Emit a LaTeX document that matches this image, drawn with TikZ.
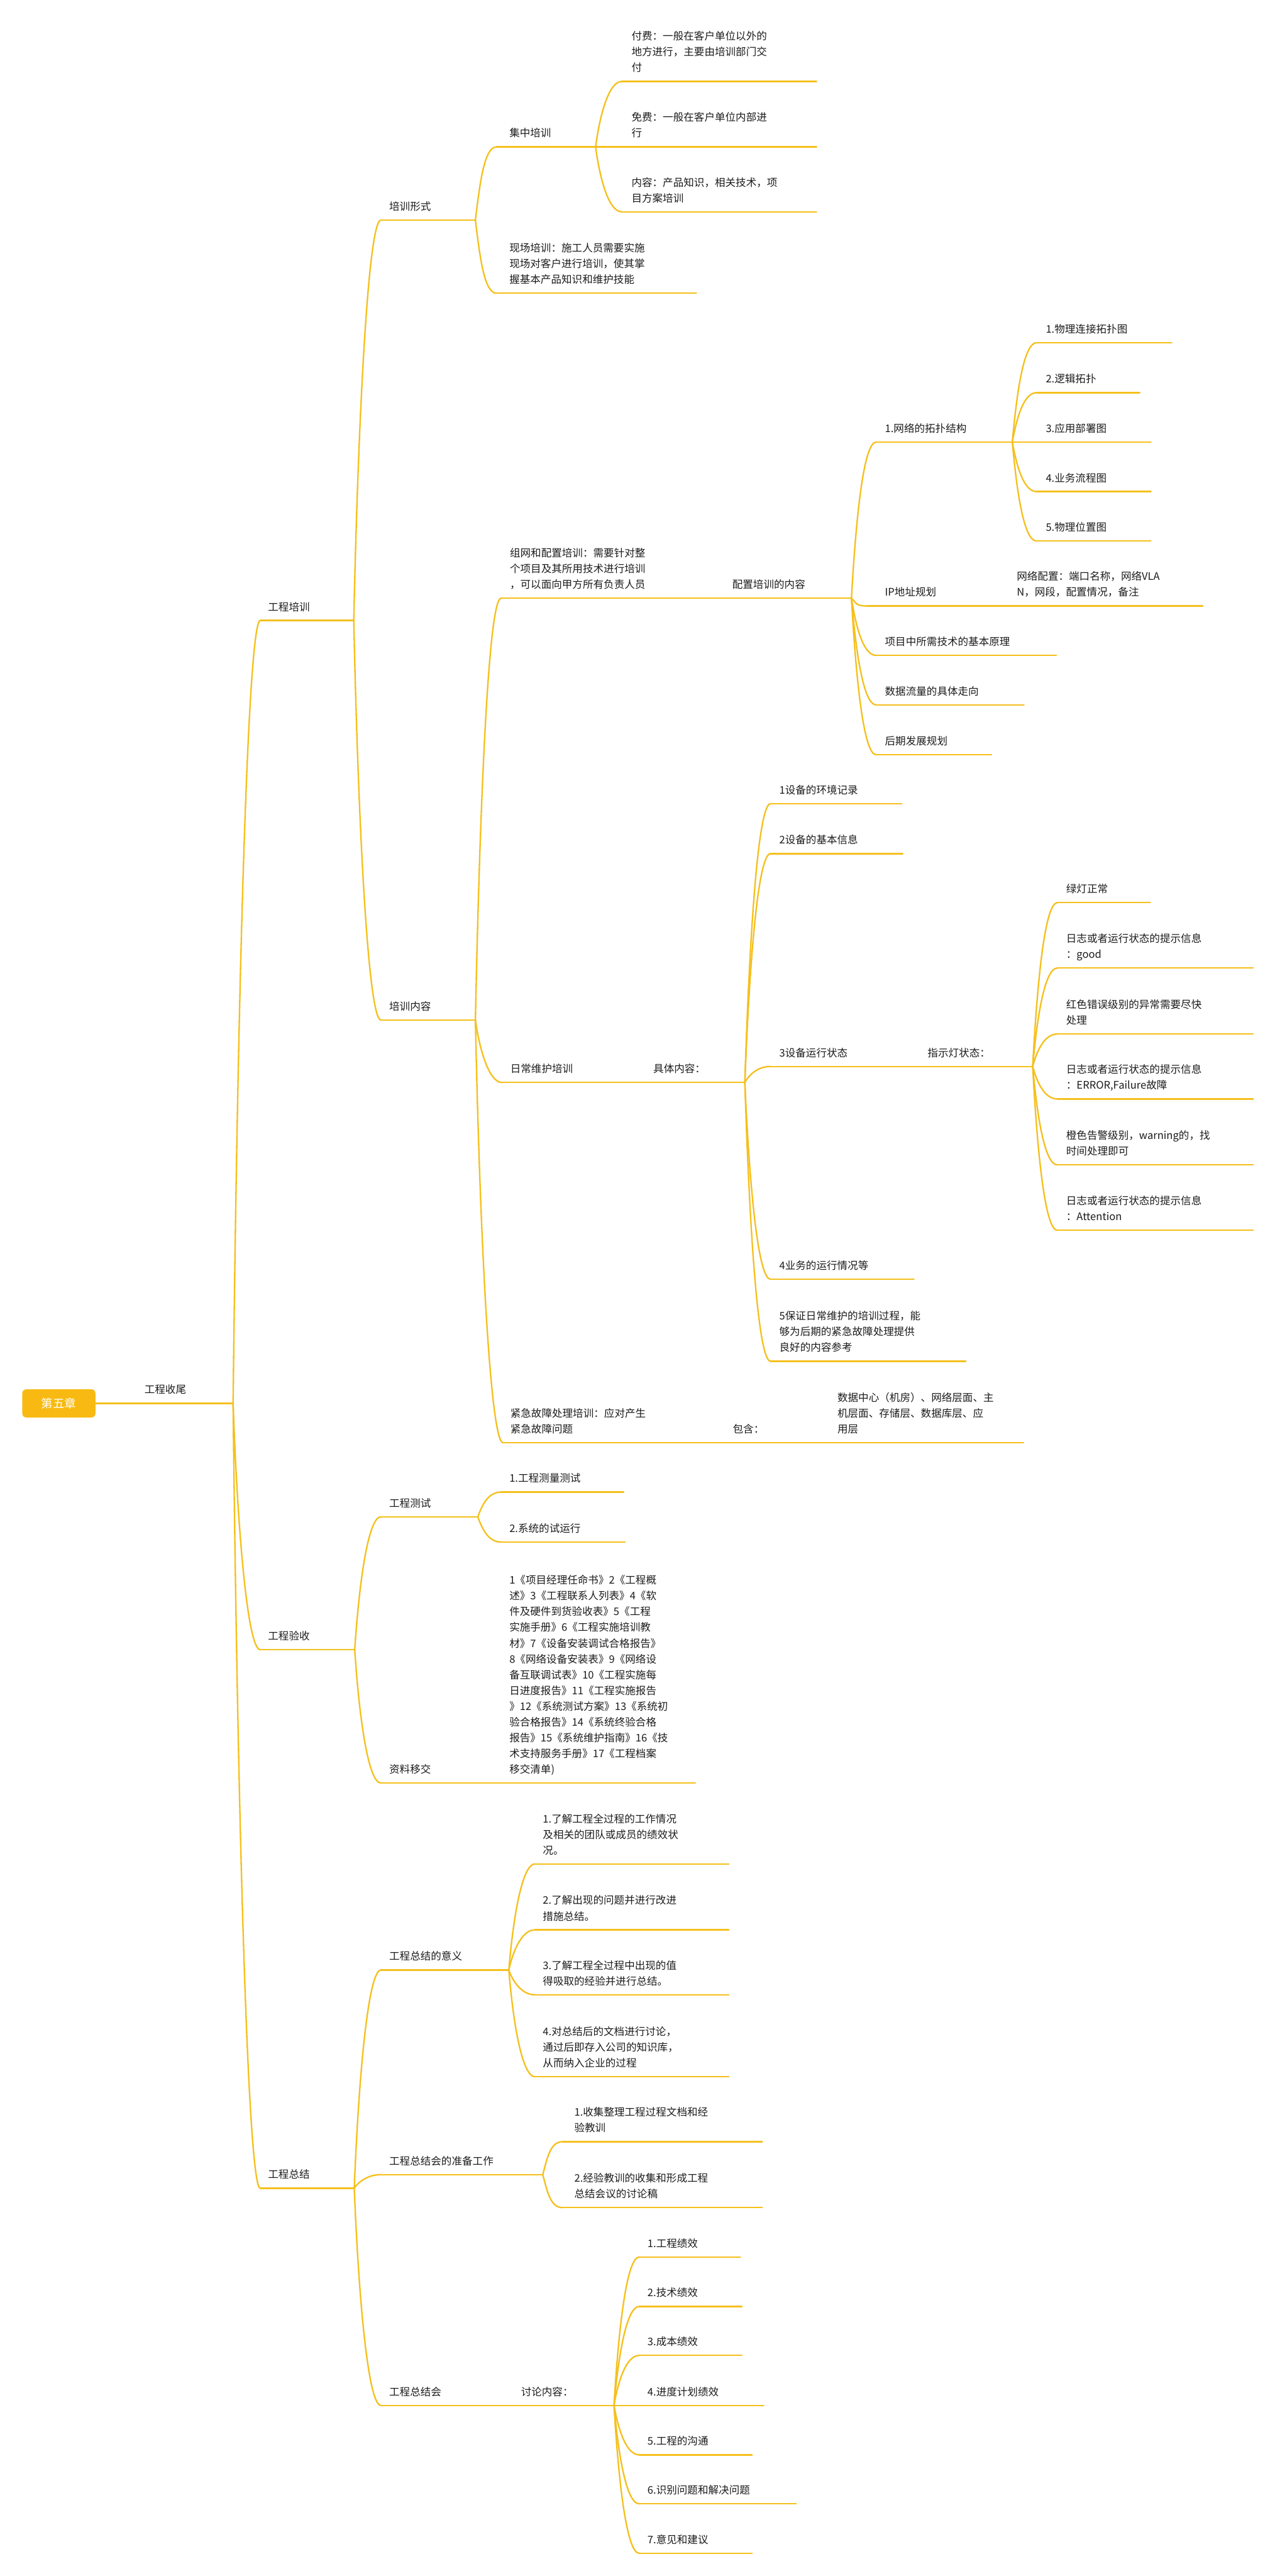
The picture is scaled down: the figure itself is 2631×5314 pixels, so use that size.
\documentclass[tikz,border=0pt]{standalone}
\usepackage{fontspec}
\setmainfont{Noto Sans CJK SC}
\definecolor{lncol}{RGB}{245,192,28}
\definecolor{txtcol}{RGB}{28,28,28}
\definecolor{rootcol}{RGB}{248,186,18}
\tikzset{
  lnk/.style={draw=lncol,line width=3pt,line cap=round},
  txt/.style={anchor=south west,inner sep=0pt,align=left,text=txtcol,font=\fontsize{21.5pt}{32.5pt}\selectfont},
  rootbox/.style={fill=rootcol,rounded corners=8pt,minimum width=151pt,minimum height=58pt,inner sep=0pt,text=white,font=\fontsize{24pt}{28pt}\selectfont}
}
\newcommand\zdp{\rule[-6pt]{0pt}{6pt}}
\newcommand\mm[6]{%
  \coordinate (#1-s) at (#4,#3);
  \coordinate (#1-e) at (#5,#3);
  \draw[lnk] (#1-s) -- (#1-e);
  \node[txt] (#1) at (#2,#3-14) {#6\zdp};}
\newcommand\cu[3]{\draw[lnk] (#1-e) .. controls +(10,-#3) and +(-25,0) .. (#2-s);}
\newcommand\cd[3]{\draw[lnk] (#1-e) .. controls +(10,#3) and +(-25,0) .. (#2-s);}
\begin{document}
\begin{tikzpicture}[x=1pt,y=-1pt]
\fill[white] (0,0) rectangle (2631,5314);
\useasboundingbox (0,0) rectangle (2631,5314);

\node[rootbox] (root) at (121.5,2895) {第五章};
\mm{R0}{298}{2895}{197}{481}{工程收尾}

\mm{A}{553}{1280}{537}{730}{工程培训}
\mm{B}{553}{3403}{537}{732}{工程验收}
\mm{C}{553}{4514}{537}{731}{工程总结}
\cu{R0}{A}{890}
\cd{R0}{B}{280}
\cd{R0}{C}{890}

% ---------- 工程培训
\mm{A1}{803}{454}{786}{981}{培训形式}
\mm{A2}{803}{2104}{786}{981}{培训内容}
\cu{A}{A1}{450}
\cd{A}{A2}{455}

\mm{A1a}{1051}{303}{1025}{1229}{集中培训}
\mm{A1b}{1051}{605}{1025}{1437}{现场培训：施工人员需要实施\\现场对客户进行培训，使其掌\\握基本产品知识和维护技能}
\cu{A1}{A1a}{83}
\cd{A1}{A1b}{83}

\mm{A1a1}{1303}{168}{1283}{1685}{付费：一般在客户单位以外的\\地方进行，主要由培训部门交\\付}
\mm{A1a2}{1303}{303}{1229}{1685}{免费：一般在客户单位内部进\\行}
\mm{A1a3}{1303}{437}{1283}{1685}{内容：产品知识，相关技术，项\\目方案培训}
\cu{A1a}{A1a1}{74}
\cd{A1a}{A1a3}{74}

\mm{A2a}{1052}{1234}{1034}{1480}{组网和配置培训：需要针对整\\个项目及其所用技术进行培训\\，可以面向甲方所有负责人员}
\mm{A2b}{1053}{2233}{1036}{1330}{日常维护培训}
\mm{A2c}{1053}{2976}{1038}{1490}{紧急故障处理培训：应对产生\\紧急故障问题}
\cu{A2}{A2a}{480}
\cd{A2}{A2b}{70}
\cd{A2}{A2c}{480}

\mm{A2ac}{1511}{1234}{1480}{1757}{配置培训的内容}
\mm{T}{1826}{912}{1808}{2089}{1.网络的拓扑结构}
\mm{IP}{1826}{1250}{1789}{2075}{IP地址规划}
\mm{P}{1826}{1352}{1808}{2180}{项目中所需技术的基本原理}
\mm{D}{1826}{1454}{1808}{2113}{数据流量的具体走向}
\mm{H}{1826}{1557}{1808}{2046}{后期发展规划}
\cu{A2ac}{T}{177}
\cd{A2ac}{IP}{9}
\cd{A2ac}{P}{65}
\cd{A2ac}{D}{121}
\cd{A2ac}{H}{178}

\mm{T1}{2158}{707}{2139}{2418}{1.物理连接拓扑图}
\mm{T2}{2158}{810}{2139}{2352}{2.逻辑拓扑}
\mm{T3}{2158}{912}{2089}{2375}{3.应用部署图}
\mm{T4}{2158}{1014}{2139}{2375}{4.业务流程图}
\mm{T5}{2158}{1116}{2139}{2375}{5.物理位置图}
\cu{T}{T1}{113}
\cu{T}{T2}{56}
\cd{T}{T4}{56}
\cd{T}{T5}{112}

\mm{IPc}{2098}{1250}{2075}{2482}{网络配置：端口名称，网络VLA\\N，网段，配置情况，备注}

\mm{A2bc}{1348}{2233}{1330}{1537}{具体内容：}
\mm{S1}{1608}{1658}{1590}{1861}{1设备的环境记录}
\mm{S2}{1608}{1761}{1590}{1863}{2设备的基本信息}
\mm{S3}{1608}{2200}{1590}{1895}{3设备运行状态}
\mm{S4}{1608}{2639}{1590}{1886}{4业务的运行情况等}
\mm{S5}{1608}{2808}{1590}{1993}{5保证日常维护的培训过程，能\\够为后期的紧急故障处理提供\\良好的内容参考}
\cu{A2bc}{S1}{316}
\cu{A2bc}{S2}{260}
\cu{A2bc}{S3}{18}
\cd{A2bc}{S4}{223}
\cd{A2bc}{S5}{316}

\mm{S3c}{1914}{2200}{1895}{2131}{指示灯状态：}
\mm{L1}{2200}{1862}{2182}{2374}{绿灯正常}
\mm{L2}{2200}{1997}{2182}{2586}{日志或者运行状态的提示信息\\：good}
\mm{L3}{2200}{2133}{2182}{2586}{红色错误级别的异常需要尽快\\处理}
\mm{L4}{2200}{2267}{2182}{2586}{日志或者运行状态的提示信息\\：ERROR,Failure故障}
\mm{L5}{2200}{2403}{2182}{2586}{橙色告警级别，warning的，找\\时间处理即可}
\mm{L6}{2200}{2538}{2182}{2586}{日志或者运行状态的提示信息\\：Attention}
\cu{S3c}{L1}{186}
\cu{S3c}{L2}{112}
\cu{S3c}{L3}{37}
\cd{S3c}{L4}{37}
\cd{S3c}{L5}{112}
\cd{S3c}{L6}{186}

\mm{A2cc}{1512}{2976}{1490}{1705}{包含：}
\mm{A2cd}{1728}{2976}{1705}{2112}{数据中心（机房）、网络层面、主\\机层面、存储层、数据库层、应\\用层}

% ---------- 工程验收
\mm{B1}{803}{3129}{786}{986}{工程测试}
\mm{B2}{803}{3678}{786}{1030}{资料移交}
\cu{B}{B1}{150}
\cd{B}{B2}{151}
\mm{B1a}{1051}{3078}{1034}{1287}{1.工程测量测试}
\mm{B1b}{1051}{3181}{1034}{1290}{2.系统的试运行}
\cu{B1}{B1a}{28}
\cd{B1}{B1b}{28}
\mm{B2c}{1051}{3678}{1030}{1435}{1《项目经理任命书》2《工程概\\述》3《工程联系人列表》4《软\\件及硬件到货验收表》5《工程\\实施手册》6《工程实施培训教\\材》7《设备安装调试合格报告》\\8《网络设备安装表》9《网络设\\备互联调试表》10《工程实施每\\日进度报告》11《工程实施报告\\》12《系统测试方案》13《系统初\\验合格报告》14《系统终验合格\\报告》15《系统维护指南》16《技\\术支持服务手册》17《工程档案\\移交清单)}

% ---------- 工程总结
\mm{C1}{803}{4064}{786}{1050}{工程总结的意义}
\mm{C2}{803}{4486}{786}{1120}{工程总结会的准备工作}
\mm{C3}{803}{4962}{786}{1050}{工程总结会}
\cu{C}{C1}{248}
\cu{C}{C2}{15}
\cd{C}{C3}{246}

\mm{C1a}{1120}{3845}{1104}{1504}{1.了解工程全过程的工作情况\\及相关的团队或成员的绩效状\\况。}
\mm{C1b}{1120}{3981}{1104}{1504}{2.了解出现的问题并进行改进\\措施总结。}
\mm{C1c}{1120}{4115}{1104}{1504}{3.了解工程全过程中出现的值\\得吸取的经验并进行总结。}
\mm{C1d}{1120}{4284}{1104}{1504}{4.对总结后的文档进行讨论，\\通过后即存入公司的知识库，\\从而纳入企业的过程}
\cu{C1}{C1a}{120}
\cu{C1}{C1b}{46}
\cd{C1}{C1c}{28}
\cd{C1}{C1d}{121}

\mm{C2a}{1185}{4418}{1161}{1573}{1.收集整理工程过程文档和经\\验教训}
\mm{C2b}{1185}{4554}{1161}{1573}{2.经验教训的收集和形成工程\\总结会议的讨论稿}
\cu{C2}{C2a}{37}
\cd{C2}{C2b}{37}

\mm{C3c}{1075}{4962}{1050}{1267}{讨论内容：}
\mm{D1}{1336}{4656}{1319}{1528}{1.工程绩效}
\mm{D2}{1336}{4758}{1319}{1531}{2.技术绩效}
\mm{D3}{1336}{4859}{1319}{1531}{3.成本绩效}
\mm{D4}{1336}{4962}{1267}{1576}{4.进度计划绩效}
\mm{D5}{1336}{5064}{1319}{1552}{5.工程的沟通}
\mm{D6}{1336}{5165}{1319}{1643}{6.识别问题和解决问题}
\mm{D7}{1336}{5267}{1319}{1552}{7.意见和建议}
\cu{C3c}{D1}{168}
\cu{C3c}{D2}{112}
\cu{C3c}{D3}{57}
\cd{C3c}{D5}{56}
\cd{C3c}{D6}{112}
\cd{C3c}{D7}{168}
\end{tikzpicture}
\end{document}
